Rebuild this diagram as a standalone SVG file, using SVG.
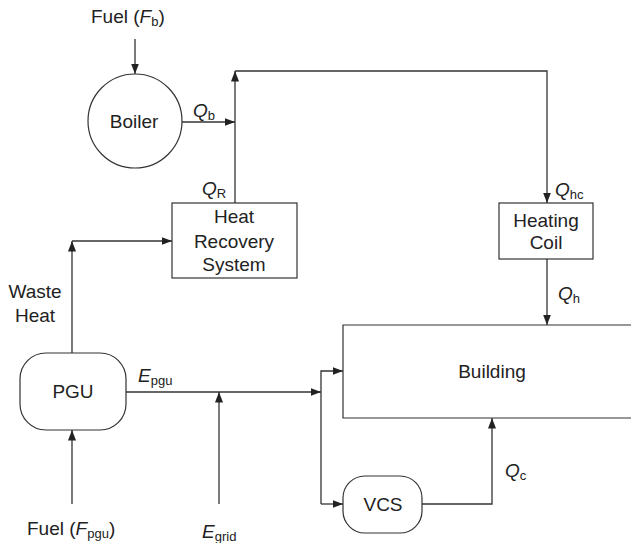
<svg xmlns="http://www.w3.org/2000/svg" width="631" height="543" viewBox="0 0 631 543">
<style>
text{font-family:"Liberation Sans",Arial,sans-serif;font-size:19px;fill:#222}
.m{text-anchor:middle}
.i{font-style:italic}
.s{font-size:13px;font-style:normal}
.n{fill:#fff;stroke:#333;stroke-width:1.2}
.c{fill:none;stroke:#333;stroke-width:1.3}
</style>
<defs>
<marker id="a" markerUnits="userSpaceOnUse" markerWidth="11" markerHeight="9" refX="10.5" refY="4.5" orient="auto">
<path d="M0,0.5 L10.5,4.5 L0,8.5 z" fill="#222"/>
</marker>
</defs>
<rect width="631" height="543" fill="#fff"/>
<g id="connectors">
<path class="c" d="M135,39 V74" marker-end="url(#a)"/>
<path class="c" d="M181,122 H235" marker-end="url(#a)"/>
<path class="c" d="M235,203 V71" marker-end="url(#a)"/>
<path class="c" d="M235,71 H547 V203" marker-end="url(#a)"/>
<path class="c" d="M547,259 V325" marker-end="url(#a)"/>
<path class="c" d="M72,353 V241" marker-end="url(#a)"/>
<path class="c" d="M72,241 H172" marker-end="url(#a)"/>
<path class="c" d="M72,504 V430" marker-end="url(#a)"/>
<path class="c" d="M126,392 H321" marker-end="url(#a)"/>
<path class="c" d="M219,504 V392" marker-end="url(#a)"/>
<path class="c" d="M321,504 V371 H343" marker-end="url(#a)"/>
<path class="c" d="M321,504 H343" marker-end="url(#a)"/>
<path class="c" d="M422,504 H492 V418" marker-end="url(#a)"/>
</g>
<g id="boiler">
<circle class="n" cx="135" cy="121" r="47"/>
<text class="m" x="134" y="128">Boiler</text>
</g>
<g id="hrs">
<rect class="n" x="172" y="203" width="125" height="75"/>
<text class="m" x="234" y="223">Heat</text>
<text class="m" x="234" y="248">Recovery</text>
<text class="m" x="234" y="271">System</text>
</g>
<g id="heating-coil">
<rect class="n" x="499" y="203" width="94" height="56"/>
<text class="m" x="546" y="227">Heating</text>
<text class="m" x="546" y="249">Coil</text>
</g>
<g id="building">
<path class="n" d="M632,325 H343 V418 H632"/>
<text class="m" x="492" y="378">Building</text>
</g>
<g id="pgu">
<rect class="n" x="20" y="353" width="106" height="77" rx="26" ry="26"/>
<text class="m" x="73" y="398">PGU</text>
</g>
<g id="vcs">
<rect class="n" x="343" y="476" width="79" height="57" rx="22" ry="22"/>
<text class="m" x="383" y="511">VCS</text>
</g>
<g id="labels">
<text x="91" y="23">Fuel (<tspan class="i">F</tspan><tspan class="s" dy="3">b</tspan><tspan dy="-3">)</tspan></text>
<text x="193" y="117"><tspan class="i">Q</tspan><tspan class="s" dy="3">b</tspan></text>
<text x="202" y="195"><tspan class="i">Q</tspan><tspan class="s" dy="3">R</tspan></text>
<text x="555" y="196"><tspan class="i">Q</tspan><tspan class="s" dy="3">hc</tspan></text>
<text x="558" y="300"><tspan class="i">Q</tspan><tspan class="s" dy="3">h</tspan></text>
<text x="505" y="477"><tspan class="i">Q</tspan><tspan class="s" dy="3">c</tspan></text>
<text class="m" x="35" y="298">Waste</text>
<text class="m" x="35" y="322">Heat</text>
<text x="138" y="382"><tspan class="i">E</tspan><tspan class="s" dy="3">pgu</tspan></text>
<text x="27" y="535">Fuel (<tspan class="i">F</tspan><tspan class="s" dy="3">pgu</tspan><tspan dy="-3">)</tspan></text>
<text x="202" y="538"><tspan class="i">E</tspan><tspan class="s" dy="3">grid</tspan></text>
</g>
</svg>
